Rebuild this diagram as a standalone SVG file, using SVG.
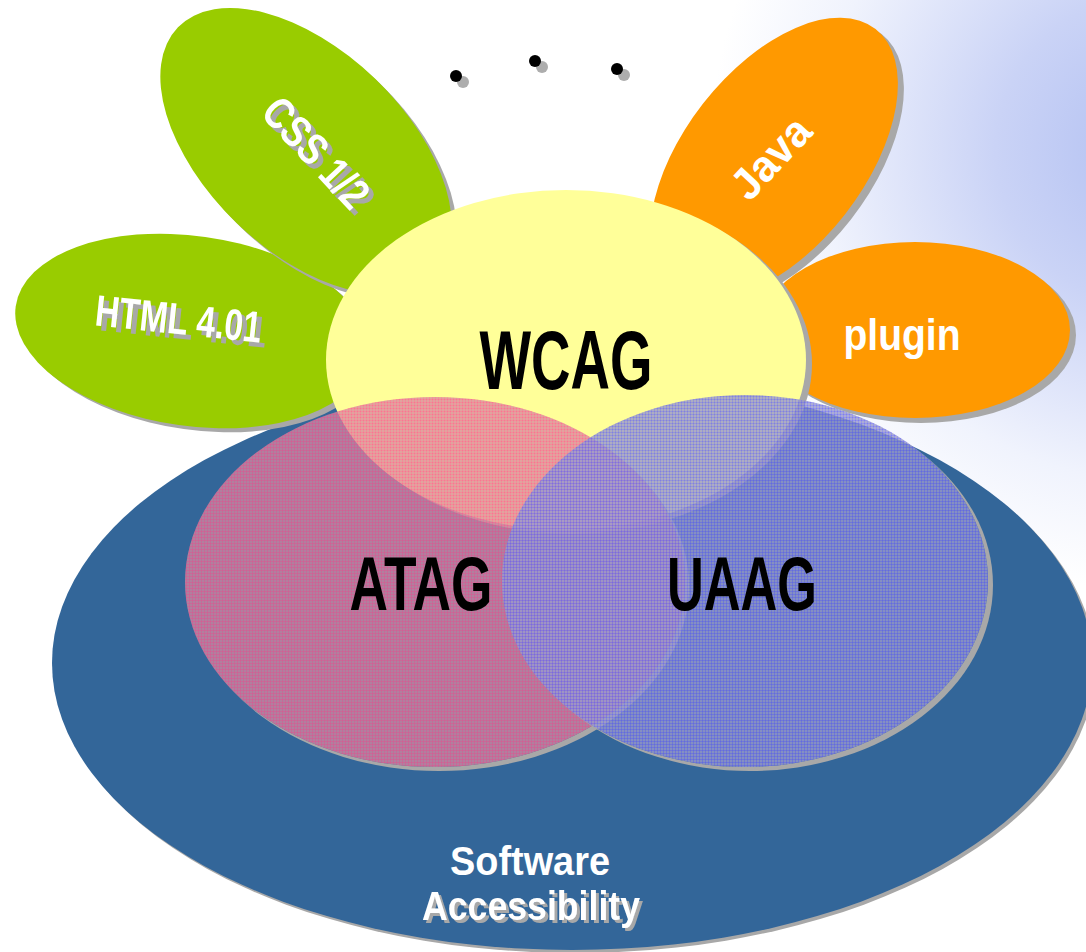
<svg xmlns="http://www.w3.org/2000/svg" width="1086" height="952" viewBox="0 0 1086 952">
<defs>
<radialGradient id="bg" cx="1150" cy="150" r="440" gradientUnits="userSpaceOnUse">
 <stop offset="0" stop-color="#B2C0F2"/>
 <stop offset="0.35" stop-color="#CAD3F6"/>
 <stop offset="0.75" stop-color="#F0F3FD"/>
 <stop offset="1" stop-color="#FFFFFF"/>
</radialGradient>
<pattern id="hatchPink" width="3" height="3" patternUnits="userSpaceOnUse">
 <rect width="3" height="1" fill="#FF3A85" fill-opacity="0.22"/>
 <rect width="1" height="3" fill="#FF3A85" fill-opacity="0.22"/>
 <rect x="1" y="1" width="2" height="2" fill="#A0A0A0" fill-opacity="0.18"/>
</pattern>
<pattern id="hatchBlue" width="3" height="3" patternUnits="userSpaceOnUse">
 <rect width="3" height="1" fill="#3A3AFF" fill-opacity="0.22"/>
 <rect width="1" height="3" fill="#3A3AFF" fill-opacity="0.22"/>
 <rect x="1" y="1" width="2" height="2" fill="#A0A0A0" fill-opacity="0.18"/>
</pattern>
<mask id="mAtag">
 <rect width="1086" height="952" fill="#fff"/>
 <ellipse cx="435" cy="582" rx="250" ry="185" fill="#000"/>
</mask>
<mask id="mUaag">
 <rect width="1086" height="952" fill="#fff"/>
 <ellipse cx="745" cy="581" rx="243" ry="186" fill="#000"/>
</mask>
<filter id="tsBig" x="-20%" y="-20%" width="140%" height="140%">
 <feDropShadow dx="5" dy="5" stdDeviation="0" flood-color="#A8A8A8" flood-opacity="1"/>
</filter>
<filter id="tsSmall" x="-20%" y="-20%" width="140%" height="140%">
 <feDropShadow dx="3" dy="3" stdDeviation="0" flood-color="#A8A8A8" flood-opacity="1"/>
</filter>
</defs>
<style>
.shadow{fill:#A8A8A8}
.green{fill:#99CC00}
.orange{fill:#FF9900}
.lbl{font-family:"Liberation Sans",Arial,sans-serif;font-weight:bold;text-anchor:middle}
.big{font-size:84px;fill:#000000}
.mid{font-size:76px;fill:#000000}
.petal{font-size:44px;fill:#FFFFFF}
.foot{font-size:41px;fill:#FFFFFF}
</style>

<rect width="1086" height="952" fill="url(#bg)"/>

<g id="dots">
 <circle cx="463" cy="82" r="6" fill="#ADADAD"/>
 <circle cx="456" cy="76" r="6" fill="#000"/>
 <circle cx="542" cy="67" r="6" fill="#ADADAD"/>
 <circle cx="535" cy="61" r="6" fill="#000"/>
 <circle cx="624" cy="75" r="6" fill="#ADADAD"/>
 <circle cx="617" cy="69" r="6" fill="#000"/>
</g>

<g id="software-accessibility">
 <ellipse class="shadow" cx="575" cy="666" rx="520" ry="287"/>
 <ellipse cx="572" cy="663" rx="520" ry="287" fill="#336699"/>
</g>

<g id="petal-html">
 <ellipse class="shadow" cx="197" cy="335" rx="178" ry="95" transform="rotate(8 197 335)"/>
 <ellipse class="green" cx="192" cy="331" rx="178" ry="95" transform="rotate(8 192 331)"/>
 <g filter="url(#tsBig)">
  <text class="lbl petal" textLength="167" lengthAdjust="spacingAndGlyphs" transform="translate(177,334) rotate(6)" x="0" y="0">HTML 4.01</text>
 </g>
</g>

<g id="petal-css">
 <ellipse class="shadow" cx="311" cy="156" rx="178" ry="100" transform="rotate(44 311 156)"/>
 <ellipse class="green" cx="306" cy="151" rx="178" ry="100" transform="rotate(44 306 151)"/>
 <g filter="url(#tsBig)">
  <text class="lbl petal" textLength="134" lengthAdjust="spacingAndGlyphs" transform="translate(305,163) rotate(47)" x="0" y="0">CSS 1/2</text>
 </g>
</g>

<g id="petal-java">
 <ellipse class="shadow" cx="780" cy="164" rx="165" ry="90" transform="rotate(-52 780 164)"/>
 <ellipse class="orange" cx="774" cy="159" rx="165" ry="90" transform="rotate(-52 774 159)"/>
 <text class="lbl petal" textLength="95" lengthAdjust="spacingAndGlyphs" transform="translate(782,168) rotate(-47)" x="0" y="0">Java</text>
</g>

<g id="petal-plugin">
 <ellipse class="shadow" cx="921" cy="335" rx="155" ry="88"/>
 <ellipse class="orange" cx="915" cy="330" rx="155" ry="88"/>
 <text class="lbl petal" x="902" y="350" textLength="117" lengthAdjust="spacingAndGlyphs">plugin</text>
</g>

<g id="wcag">
 <ellipse class="shadow" cx="572" cy="364" rx="240" ry="170"/>
 <ellipse cx="566" cy="360" rx="240" ry="170" fill="#FFFF99"/>
</g>

<g id="atag">
 <ellipse class="shadow" cx="439" cy="586" rx="250" ry="185" mask="url(#mAtag)"/>
 <ellipse cx="435" cy="582" rx="250" ry="185" fill="#E8809E" fill-opacity="0.72"/>
 <ellipse cx="435" cy="582" rx="250" ry="185" fill="url(#hatchPink)"/>
</g>

<g id="uaag">
 <ellipse class="shadow" cx="750" cy="585" rx="243" ry="186" mask="url(#mUaag)"/>
 <ellipse cx="745" cy="581" rx="243" ry="186" fill="#9797D8" fill-opacity="0.76"/>
 <ellipse cx="745" cy="581" rx="243" ry="186" fill="url(#hatchBlue)"/>
</g>

<g id="labels">
 <text class="lbl big" x="566" y="389" textLength="173" lengthAdjust="spacingAndGlyphs">WCAG</text>
 <text class="lbl mid" x="421" y="610" textLength="143" lengthAdjust="spacingAndGlyphs">ATAG</text>
 <text class="lbl mid" x="742" y="610" textLength="150" lengthAdjust="spacingAndGlyphs">UAAG</text>
 <text class="lbl foot" x="530" y="875" textLength="160" lengthAdjust="spacingAndGlyphs">Software</text>
 <g filter="url(#tsSmall)">
  <text class="lbl foot" x="531" y="920" textLength="218" lengthAdjust="spacingAndGlyphs">Accessibility</text>
 </g>
</g>
</svg>
